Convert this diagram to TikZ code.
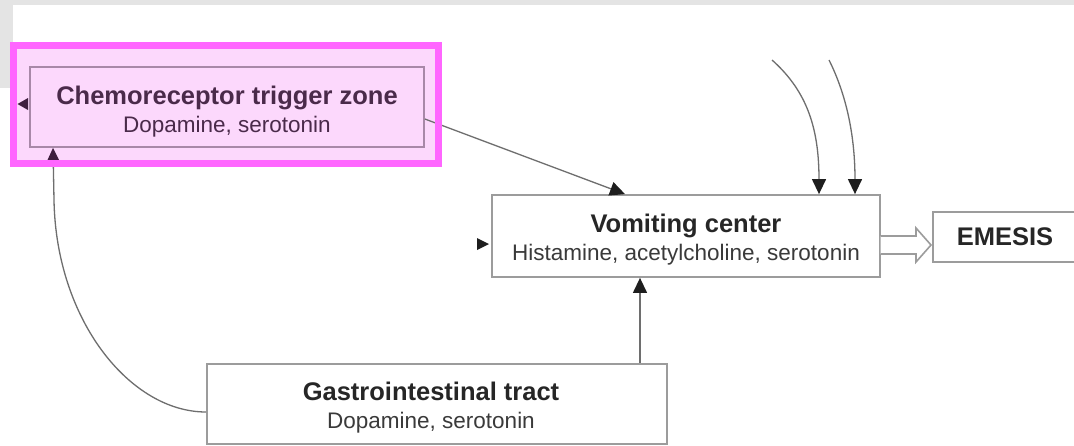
\documentclass[tikz,border=0pt]{standalone}
\usepackage{fontspec}
\setmainfont{Liberation Sans}
\usetikzlibrary{arrows.meta}
\definecolor{bggray}{HTML}{E4E4E4}
\definecolor{boxgray}{HTML}{9C9C9C}
\definecolor{conngray}{HTML}{6E6E6E}
\definecolor{tipcol}{HTML}{1E1E1E}
\definecolor{titlecol}{HTML}{262626}
\definecolor{subcol}{HTML}{3A3A3A}
\definecolor{hlborder}{HTML}{FF66FF}
\definecolor{hlfill}{HTML}{FCD8FC}
\definecolor{ctzborder}{HTML}{A888A8}
\definecolor{ctztext}{HTML}{4A2A4A}
\definecolor{ctztip}{HTML}{3E1E3E}
\begin{document}
\begin{tikzpicture}[x=1pt,y=-1pt,
  box/.style={draw=boxgray, line width=1.8pt, fill=white, inner sep=0pt},
  title/.style={font=\fontsize{25.5}{30}\selectfont\bfseries, text=titlecol, anchor=base, inner sep=0pt},
  sub/.style={font=\fontsize{22.5}{27}\selectfont, text=subcol, anchor=base, inner sep=0pt},
  conn/.style={draw=conngray, line width=1.3pt, -{Triangle[length=15pt,width=14pt,color=tipcol,fill=tipcol]}},
  hollow/.style={draw=boxgray, line width=1.6pt, fill=white, line join=miter}
]
\useasboundingbox (0,0) rectangle (1074,445);
\fill[white] (0,0) rectangle (1074,445);
% grey page edge
\fill[bggray] (0,0) rectangle (1074,5);
\fill[bggray] (0,0) rectangle (13,88);

% highlight fill behind the trigger-zone box
\fill[hlfill] (13.5,45.5) rectangle (438.5,163.5);

% boxes
\node[box, draw=ctzborder, fill=hlfill, minimum width=394pt, minimum height=80pt] (ctz) at (227,107) {};
\node[box, minimum width=388pt, minimum height=82pt] (vc) at (686,236) {};
\node[box, minimum width=460pt, minimum height=80pt] (gi) at (437,404) {};
\node[box, minimum width=148pt, minimum height=50pt] (em) at (1007,237) {};

% box texts
\node[title, text=ctztext] (ctzt) at (227,104) {Chemoreceptor trigger zone};
\node[sub, text=ctztext] (ctzs) at (227,132) {Dopamine, serotonin};
\node[title] (vct) at (686,232) {Vomiting center};
\node[sub] (vcs) at (686,260) {Histamine, acetylcholine, serotonin};
\node[title] (git) at (431,400) {Gastrointestinal tract};
\node[sub] (gis) at (431,428) {Dopamine, serotonin};
\node[title] (emt) at (1005,245) {EMESIS};

% connectors
\draw[conn] ([yshift=-12pt]ctz.east) -- ([xshift=-61pt]vc.north);
\draw[conn] ([xshift=203pt]gi.north) -- ([xshift=203pt]gi.north |- vc.south);
\coordinate (s1) at (772,60);
\coordinate (s2) at (829,60);
\draw[conn] (s1) .. controls (808,92) and (819,130) .. ([xshift=133pt]vc.north);
\draw[conn] (s2) .. controls (848,98) and (855,140) .. ([xshift=169pt]vc.north);
\draw[conn, -{Triangle[length=15pt,width=14pt,color=ctztip,fill=ctztip]}]
  ([yshift=-8pt]gi.west) .. controls (130,412) and (56,320) .. (54,200) -- ([xshift=-174pt]ctz.south);

% short arrowheads at the box edges
\fill[tipcol] (477,238) -- (489,244) -- (477,250) -- cycle;
\fill[ctztip] (17.5,104) -- (28,98) -- (28,110) -- cycle;

% hollow arrow to emesis
\draw[hollow] (880.5,236) -- (916,236) -- (916,228) -- (931,245) -- (916,262) -- (916,254) -- (880.5,254);

% highlight frame
\draw[hlborder, line width=7pt] (13.5,45.5) rectangle (438.5,163.5);
\end{tikzpicture}
\end{document}
